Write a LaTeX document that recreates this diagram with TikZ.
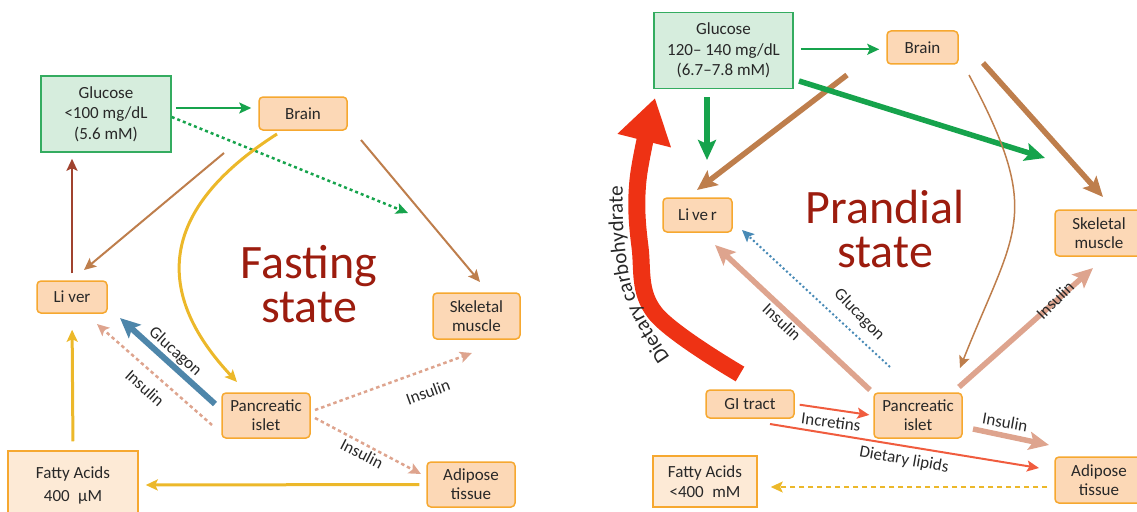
\documentclass[tikz,border=0pt]{standalone}
\usepackage{fontspec}
\setmainfont{Carlito}
\usetikzlibrary{arrows.meta,calc,decorations.text}
\definecolor{ink}{RGB}{40,40,40}
\definecolor{boxfill}{RGB}{252,216,182}
\definecolor{boxline}{RGB}{246,168,48}
\definecolor{fafill}{RGB}{253,234,214}
\definecolor{glfill}{RGB}{214,237,221}
\definecolor{glline}{RGB}{52,172,96}
\definecolor{grn}{RGB}{22,163,76}
\definecolor{brn}{RGB}{190,126,76}
\definecolor{brred}{RGB}{160,66,46}
\definecolor{yel}{RGB}{236,184,42}
\definecolor{blu}{RGB}{78,134,170}
\definecolor{bludot}{RGB}{72,138,182}
\definecolor{pinkc}{RGB}{222,164,142}
\definecolor{rdc}{RGB}{240,92,62}
\definecolor{bigred}{RGB}{238,50,20}
\definecolor{ttl}{RGB}{156,28,14}
\newcommand\boxfont{\fontsize{17}{19}\selectfont}
\newcommand\titlefont{\fontsize{48}{48}\selectfont}
\tikzset{
  box/.style={draw=boxline,fill=boxfill,line width=1.5pt,rounded corners=4pt,align=center,text=ink,font=\boxfont,inner sep=0pt},
  glubox/.style={box,draw=glline,fill=glfill,sharp corners,font=\fontsize{17}{20.5}\selectfont},
  fabox/.style={box,fill=fafill,sharp corners},
  lbl/.style={text=ink,font=\boxfont,inner sep=0pt},
  ttlnode/.style={text=ttl,font=\titlefont,anchor=base,inner sep=0pt},
  thinarr/.style={line width=2pt,-{Stealth[length=12pt,width=11pt,inset=2.5pt]}},
  thickarr/.style={line width=5.5pt,-{Stealth[length=20pt,width=18pt,inset=4pt]}},
  dotarr/.style={thinarr,line width=2.5pt,dash pattern=on 3.5pt off 3pt}
}
\begin{document}
\begin{tikzpicture}[x=1pt,y=-1pt]
\useasboundingbox (0,0) rectangle (1137,511);

\node[glubox,minimum width=130pt,minimum height=76pt] (glucL) at (106,114) {Glucose\\<100 mg/dL\\(5.6 mM)};
\node[box,minimum width=88pt,minimum height=33pt] (brainL) at (303,113.5) {Brain};
\node[box,minimum width=70pt,minimum height=32pt] (liverL) at (72,297) {Li ver};
\node[box,minimum width=87pt,minimum height=46pt] (skelL) at (476.5,316) {Skeletal\\muscle};
\node[box,minimum width=88pt,minimum height=45pt] (pancL) at (266,415.5) {Pancreatic\\islet};
\node[box,minimum width=88pt,minimum height=45pt] (adipL) at (471,484.5) {Adipose\\tissue};
\node[fabox,minimum width=130pt,minimum height=68pt,font=\fontsize{17}{23}\selectfont] (fattyL) at (73,485) {Fatty Acids\\400\enspace μM};
\node[ttlnode] (fastA) at (309,278) {Fasting};
\node[ttlnode] (fastB) at (309,322) {state};

\coordinate (gdotL) at (408,213);
\coordinate (brLa) at (224,153);
\coordinate (brLb) at (84,270);
\coordinate (brLc) at (361,140);
\coordinate (brLd) at (480,282);
\coordinate (ycL) at (277,134);
\coordinate (ycLe) at (237,382);
\coordinate (gcgL) at (215,404);
\coordinate (gcgLe) at (120,318);
\coordinate (inLa) at (212,425);
\coordinate (inLb) at (97,324);
\coordinate (inLc) at (315,410);
\coordinate (inLd) at (472,353);
\coordinate (inLe) at (315,418);
\coordinate (inLf) at (421,474);

\draw[thinarr,grn,shorten <=4pt,shorten >=7pt] ([yshift=6pt]glucL.east) -- ([yshift=5.5pt]brainL.west);
\draw[dotarr,grn,dash pattern=on 3pt off 3pt] ([yshift=-3pt]glucL.east) -- (gdotL);
\draw[thinarr,brn] (brLa) -- (brLb);
\draw[thinarr,brn] (brLc) -- (brLd);
\draw[thinarr,brred,line width=2.5pt,shorten <=7pt,shorten >=6pt] (liverL.north) -- (liverL.north |- glucL.south);
\draw[thinarr,yel,line width=3pt] (ycL) .. controls (150,215) and (160,300) .. (ycLe);
\draw[thickarr,blu,line width=6pt] (gcgL) -- (gcgLe);
\foreach \a/\b in {inLa/inLb,inLc/inLd,inLe/inLf}
  \draw[dotarr,pinkc] (\a) -- (\b);
\draw[thinarr,yel,line width=3pt,shorten <=9pt,shorten >=16pt] (fattyL.north) -- (liverL.south);
\draw[thinarr,yel,line width=3pt,shorten <=7pt,shorten >=7pt] (adipL.west) -- (fattyL.east);

\node[lbl,rotate=-42] (glcgL) at (175,352) {Glucagon};
\node[lbl,rotate=-42] (insL1) at (145,388) {Insulin};
\node[lbl,rotate=20] (insL2) at (428,392) {Insulin};
\node[lbl,rotate=-27] (insL3) at (362,454) {Insulin};

\node[glubox,minimum width=139pt,minimum height=76pt] (glucR) at (723.5,50.5) {Glucose\\120– 140 mg/dL\\(6.7–7.8 mM)};
\node[box,minimum width=71pt,minimum height=33pt] (brainR) at (922.5,47.5) {Brain};
\node[box,minimum width=69pt,minimum height=34pt] (liverR) at (697.5,215) {Li\,ve\,r};
\node[box,minimum width=88pt,minimum height=46pt] (skelR) at (1099,233) {Skeletal\\muscle};
\node[box,minimum width=88pt,minimum height=46pt] (adipR) at (1099,480) {Adipose\\tissue};
\node[box,minimum width=88pt,minimum height=28pt] (giR) at (750,404) {GI tract};
\node[box,minimum width=88pt,minimum height=45pt] (pancR) at (918,415.5) {Pancreatic\\islet};
\node[fabox,minimum width=104pt,minimum height=51pt,font=\fontsize{17}{20.5}\selectfont] (fattyR) at (705,481.5) {Fatty Acids\\<400\enspace mM};
\node[ttlnode] (prA) at (885,223) {Prandial};
\node[ttlnode] (prB) at (885,267) {state};

\coordinate (gdR) at (707,160);
\coordinate (gsR) at (799,81);
\coordinate (gsRe) at (1045,158);
\coordinate (blR) at (847,75);
\coordinate (blRe) at (697,190);
\coordinate (bsR) at (983,63);
\coordinate (bsRe) at (1103,197);
\coordinate (bcR) at (969,75);
\coordinate (bcRe) at (960,368);
\coordinate (gcR) at (890,367);
\coordinate (gcRe) at (742,230);
\coordinate (inRa) at (870,390);
\coordinate (inRb) at (715,245);
\coordinate (inRc) at (959,387);
\coordinate (inRd) at (1093,268);
\coordinate (inRe) at (973,429);
\coordinate (inRf) at (1049,445);
\coordinate (dlR) at (770,424);
\coordinate (dlRe) at (1039,468);

\draw[bigred,line width=17pt,-{Triangle[length=44pt,width=52pt]}] plot[smooth,tension=0.6] coordinates {(740,374) (655,313) (640,247) (638,180) (655,98)};
\path[decorate,decoration={text along path,text color=ink,text={|\fontsize{21}{21}\selectfont|Dietary carbohydrate}}] plot[smooth] coordinates {(670,357) (645,318) (632,287) (626,255) (623,220) (623,185) (626,150)};

\draw[thinarr,grn,shorten <=7pt,shorten >=7pt] ([yshift=1.2pt]glucR.east) -- ([yshift=-1.8pt]brainR.west);
\draw[thickarr,brn] (blR) -- (blRe);
\draw[thickarr,brn] (bsR) -- (bsRe);
\draw[thickarr,grn,shorten <=8pt] ([xshift=-16.5pt]glucR.south) -- (gdR);
\draw[thickarr,grn] (gsR) -- (gsRe);
\draw[thinarr,brn,line width=1.5pt] (bcR) .. controls (1044,216) and (1015.5,228.5) .. (bcRe);
\draw[thinarr,bludot,dash pattern=on 2pt off 2.5pt] (gcR) -- (gcRe);
\foreach \a/\b in {inRa/inRb,inRc/inRd,inRe/inRf}
  \draw[thickarr,pinkc] (\a) -- (\b);
\draw[thinarr,rdc,shorten <=5pt,shorten >=4pt] (giR.east) -- (pancR.west);
\draw[thinarr,rdc] (dlR) -- (dlRe);
\draw[thinarr,yel,line width=1.5pt,dash pattern=on 5pt off 4pt,shorten <=7pt,shorten >=13pt] ([yshift=-7pt]adipR.west) -- ([yshift=-5.5pt]fattyR.east);

\node[lbl,rotate=-43] (insR1) at (782,322) {Insulin};
\node[lbl,rotate=-46] (glcgR) at (859,315) {Glucagon};
\node[lbl,rotate=45] (insR2) at (1055,300) {Insulin};
\node[lbl,rotate=-10] (insR3) at (1005,422) {Insulin};
\node[lbl,rotate=-7.5] (incR) at (831,422) {Incretins};
\node[lbl,rotate=-10] (dlipR) at (904,460) {Dietary lipids};
\end{tikzpicture}
\end{document}
